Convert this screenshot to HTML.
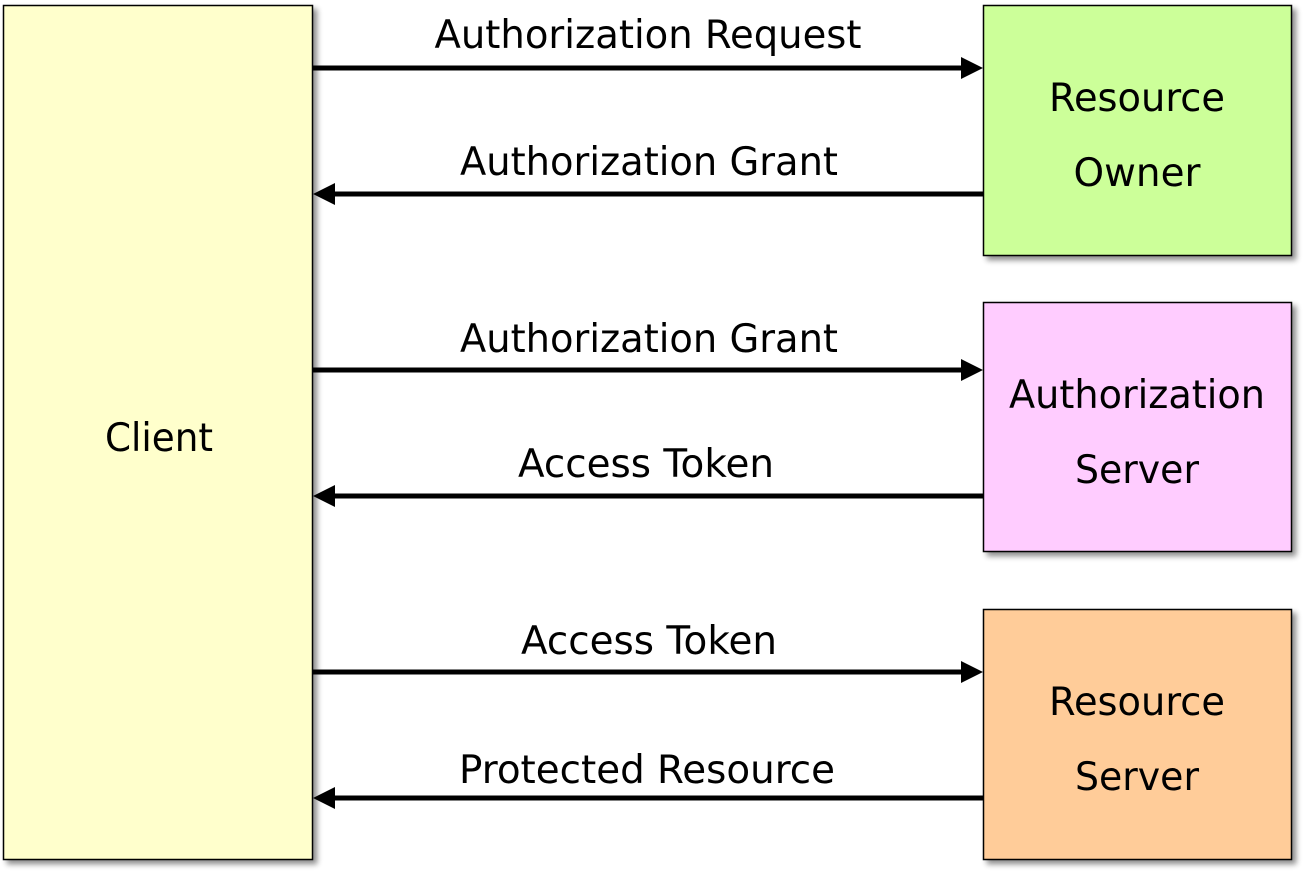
<!DOCTYPE html>
<html><head><meta charset="utf-8"><style>
html,body{margin:0;padding:0;background:#fff;width:1304px;height:872px;overflow:hidden}
text{font-family:"DejaVu Sans","Liberation Sans",sans-serif;font-size:39px;fill:#000}
</style></head><body>
<svg width="1304" height="872" viewBox="0 0 1304 872" xmlns="http://www.w3.org/2000/svg">
<defs>
<filter id="sh" x="-10%" y="-10%" width="130%" height="130%">
<feGaussianBlur in="SourceAlpha" stdDeviation="3"/><feOffset dx="4" dy="4"/>
<feComponentTransfer><feFuncA type="linear" slope="0.45"/></feComponentTransfer>
<feMerge><feMergeNode/><feMergeNode in="SourceGraphic"/></feMerge></filter>
</defs>
<rect x="3.5" y="5.5" width="309" height="854" fill="#ffffcc" stroke="#000" stroke-width="1.5" filter="url(#sh)"/>
<rect x="983.5" y="5.5" width="308" height="250" fill="#ccff99" stroke="#000" stroke-width="1.5" filter="url(#sh)"/>
<rect x="983.5" y="302.5" width="308" height="249" fill="#ffccff" stroke="#000" stroke-width="1.5" filter="url(#sh)"/>
<rect x="983.5" y="609.5" width="308" height="250" fill="#ffcc99" stroke="#000" stroke-width="1.5" filter="url(#sh)"/>
<g stroke="#000" stroke-width="5">
<line x1="313" y1="68" x2="965" y2="68"/>
<line x1="332" y1="194" x2="983" y2="194"/>
<line x1="313" y1="370" x2="965" y2="370"/>
<line x1="332" y1="496" x2="983" y2="496"/>
<line x1="313" y1="672" x2="965" y2="672"/>
<line x1="332" y1="798" x2="983" y2="798"/>
</g>
<g fill="#000">
<polygon points="983,68 961,57 961,79"/>
<polygon points="313,194 335,183 335,205"/>
<polygon points="983,370 961,359 961,381"/>
<polygon points="313,496 335,485 335,507"/>
<polygon points="983,672 961,661 961,683"/>
<polygon points="313,798 335,787 335,809"/>
</g>
<g text-anchor="middle">
<text x="648" y="48" textLength="427" lengthAdjust="spacingAndGlyphs">Authorization Request</text>
<text x="649" y="175" textLength="378" lengthAdjust="spacingAndGlyphs">Authorization Grant</text>
<text x="649" y="352" textLength="378" lengthAdjust="spacingAndGlyphs">Authorization Grant</text>
<text x="646" y="477" textLength="256" lengthAdjust="spacingAndGlyphs">Access Token</text>
<text x="649" y="654" textLength="256" lengthAdjust="spacingAndGlyphs">Access Token</text>
<text x="647" y="783" textLength="376" lengthAdjust="spacingAndGlyphs">Protected Resource</text>
<text x="159" y="451" textLength="108" lengthAdjust="spacingAndGlyphs">Client</text>
<text x="1137" y="111" textLength="176" lengthAdjust="spacingAndGlyphs">Resource</text>
<text x="1137" y="186" textLength="127" lengthAdjust="spacingAndGlyphs">Owner</text>
<text x="1137" y="408" textLength="256" lengthAdjust="spacingAndGlyphs">Authorization</text>
<text x="1137" y="483" textLength="124" lengthAdjust="spacingAndGlyphs">Server</text>
<text x="1137" y="715" textLength="176" lengthAdjust="spacingAndGlyphs">Resource</text>
<text x="1137" y="790" textLength="124" lengthAdjust="spacingAndGlyphs">Server</text>
</g>
</svg>
</body></html>
